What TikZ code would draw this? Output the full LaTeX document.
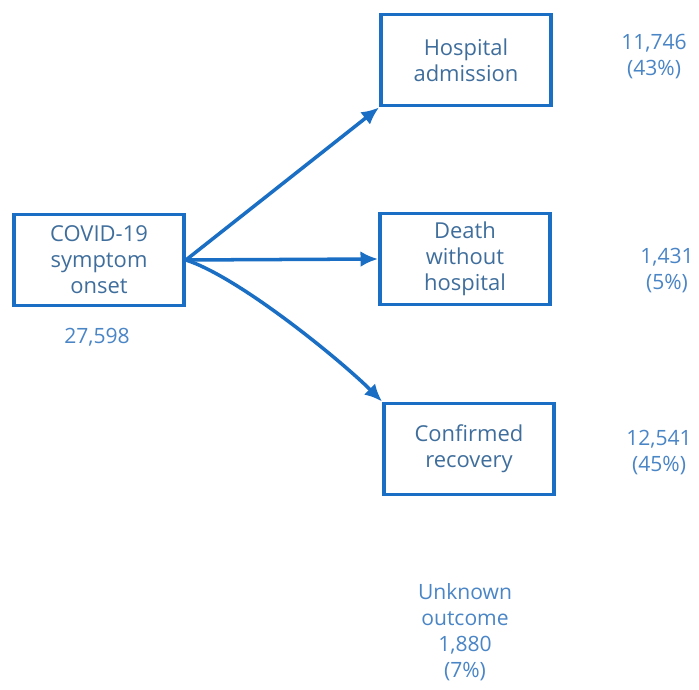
\documentclass[tikz,border=0pt]{standalone}
\usepackage{fontspec}
\setmainfont{Open Sans}
\usetikzlibrary{arrows.meta}
\definecolor{boxblue}{HTML}{1A6FC4}
\definecolor{textblue}{HTML}{3F6E9C}
\definecolor{numblue}{HTML}{4A85C6}
\tikzset{
  statebox/.style={draw=boxblue, line width=2.2pt, minimum width=3.4cm, minimum height=1.82cm,
    align=center, text=textblue, font=\fontsize{12.5}{14.8}\selectfont},
  countlbl/.style={align=center, text=numblue, font=\fontsize{12}{14.8}\selectfont},
  flow/.style={draw=boxblue, line width=2pt, -{Latex[length=10pt,width=9pt]}}
}
\begin{document}
\begin{tikzpicture}[x=0.02cm,y=0.02cm]
  \useasboundingbox (0,0) rectangle (699,689);
  % boxes
  \node[statebox] (onset) at (99,429) {COVID-19\\symptom\\onset};
  \node[statebox] (hosp) at (466,629) {Hospital\\admission};
  \node[statebox] (death) at (465,430) {Death\\without\\hospital};
  \node[statebox] (recov) at (469,240) {Confirmed\\recovery};
  % counts
  \node[countlbl] (onsetn) at (97,352) {27,598};
  \node[countlbl] (hospn) at (654,632) {11,746\\(43\%)};
  \node[countlbl] (deathn) at (667,418) {1,431\\(5\%)};
  \node[countlbl] (recovn) at (659,236) {12,541\\(45\%)};
  \node[countlbl] (unknown) at (465,57) {Unknown\\outcome\\1,880\\(7\%)};
  % arrows
  \draw[flow] (onset.east) -- (hosp.south west);
  \draw[flow] (onset.east) -- (death.west);
  \draw[flow] (onset.east) to[out=-18,in=135,looseness=0.6] (recov.north west);
\end{tikzpicture}
\end{document}
